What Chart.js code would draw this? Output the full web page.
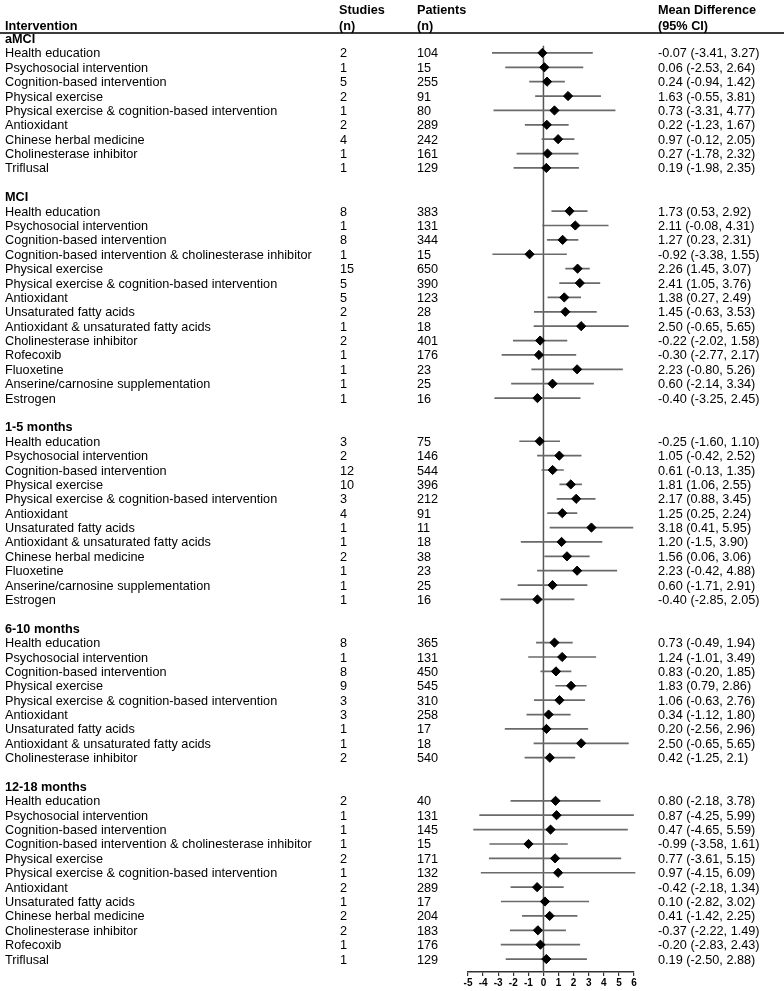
<!DOCTYPE html>
<html>
<head>
<meta charset="utf-8">
<script src="https://cdn.jsdelivr.net/npm/chart.js@4.4.1/dist/chart.umd.min.js"></script>
<style>
  html, body { margin: 0; padding: 0; background: #fff; }
  #wrap { position: relative; width: 784px; height: 991px; overflow: hidden;
          font-family: "Liberation Sans", Arial, sans-serif; font-size: 12.7px; color: #000; }
  #wrap canvas { position: absolute; left: 0; top: 0; }
  .t { position: absolute; white-space: nowrap; line-height: 14px; }
  .b { font-weight: bold; }
  #rule { position: absolute; left: 0; top: 32px; width: 784px; height: 2px; background: #3c3c3c; }
</style>
</head>
<body>
<div id="wrap">
  <canvas id="forest" width="784" height="991"></canvas>
  <div id="rule"></div>
</div>
<script>
const groups = ['aMCI', 'MCI', '1-5 months', '6-10 months', '12-18 months'];
const groupSizes = [9, 14, 12, 9, 12];

const interventions = [
  // aMCI
  'Health education', 'Psychosocial intervention', 'Cognition-based intervention', 'Physical exercise',
  'Physical exercise & cognition-based intervention', 'Antioxidant', 'Chinese herbal medicine',
  'Cholinesterase inhibitor', 'Triflusal',
  // MCI
  'Health education', 'Psychosocial intervention', 'Cognition-based intervention',
  'Cognition-based intervention & cholinesterase inhibitor', 'Physical exercise',
  'Physical exercise & cognition-based intervention', 'Antioxidant', 'Unsaturated fatty acids',
  'Antioxidant & unsaturated fatty acids', 'Cholinesterase inhibitor', 'Rofecoxib', 'Fluoxetine',
  'Anserine/carnosine supplementation', 'Estrogen',
  // 1-5 months
  'Health education', 'Psychosocial intervention', 'Cognition-based intervention', 'Physical exercise',
  'Physical exercise & cognition-based intervention', 'Antioxidant', 'Unsaturated fatty acids',
  'Antioxidant & unsaturated fatty acids', 'Chinese herbal medicine', 'Fluoxetine',
  'Anserine/carnosine supplementation', 'Estrogen',
  // 6-10 months
  'Health education', 'Psychosocial intervention', 'Cognition-based intervention', 'Physical exercise',
  'Physical exercise & cognition-based intervention', 'Antioxidant', 'Unsaturated fatty acids',
  'Antioxidant & unsaturated fatty acids', 'Cholinesterase inhibitor',
  // 12-18 months
  'Health education', 'Psychosocial intervention', 'Cognition-based intervention',
  'Cognition-based intervention & cholinesterase inhibitor', 'Physical exercise',
  'Physical exercise & cognition-based intervention', 'Antioxidant', 'Unsaturated fatty acids',
  'Chinese herbal medicine', 'Cholinesterase inhibitor', 'Rofecoxib', 'Triflusal'
];

const studies = [
  2, 1, 5, 2, 1, 2, 4, 1, 1,
  8, 1, 8, 1, 15, 5, 5, 2, 1, 2, 1, 1, 1, 1,
  3, 2, 12, 10, 3, 4, 1, 1, 2, 1, 1, 1,
  8, 1, 8, 9, 3, 3, 1, 1, 2,
  2, 1, 1, 1, 2, 1, 2, 1, 2, 2, 1, 1
];

const patients = [
  104, 15, 255, 91, 80, 289, 242, 161, 129,
  383, 131, 344, 15, 650, 390, 123, 28, 18, 401, 176, 23, 25, 16,
  75, 146, 544, 396, 212, 91, 11, 18, 38, 23, 25, 16,
  365, 131, 450, 545, 310, 258, 17, 18, 540,
  40, 131, 145, 15, 171, 132, 289, 17, 204, 183, 176, 129
];

const md = [
  -0.07, 0.06, 0.24, 1.63, 0.73, 0.22, 0.97, 0.27, 0.19,
  1.73, 2.11, 1.27, -0.92, 2.26, 2.41, 1.38, 1.45, 2.50, -0.22, -0.30, 2.23, 0.60, -0.40,
  -0.25, 1.05, 0.61, 1.81, 2.17, 1.25, 3.18, 1.20, 1.56, 2.23, 0.60, -0.40,
  0.73, 1.24, 0.83, 1.83, 1.06, 0.34, 0.20, 2.50, 0.42,
  0.80, 0.87, 0.47, -0.99, 0.77, 0.97, -0.42, 0.10, 0.41, -0.37, -0.20, 0.19
];

const lo = [
  -3.41, -2.53, -0.94, -0.55, -3.31, -1.23, -0.12, -1.78, -1.98,
  0.53, -0.08, 0.23, -3.38, 1.45, 1.05, 0.27, -0.63, -0.65, -2.02, -2.77, -0.80, -2.14, -3.25,
  -1.60, -0.42, -0.13, 1.06, 0.88, 0.25, 0.41, -1.5, 0.06, -0.42, -1.71, -2.85,
  -0.49, -1.01, -0.20, 0.79, -0.63, -1.12, -2.56, -0.65, -1.25,
  -2.18, -4.25, -4.65, -3.58, -3.61, -4.15, -2.18, -2.82, -1.42, -2.22, -2.83, -2.50
];

const hi = [
  3.27, 2.64, 1.42, 3.81, 4.77, 1.67, 2.05, 2.32, 2.35,
  2.92, 4.31, 2.31, 1.55, 3.07, 3.76, 2.49, 3.53, 5.65, 1.58, 2.17, 5.26, 3.34, 2.45,
  1.10, 2.52, 1.35, 2.55, 3.45, 2.24, 5.95, 3.90, 3.06, 4.88, 2.91, 2.05,
  1.94, 3.49, 1.85, 2.86, 2.76, 1.80, 2.96, 5.65, 2.1,
  3.78, 5.99, 5.59, 1.61, 5.15, 6.09, 1.34, 3.02, 2.25, 1.49, 2.43, 2.88
];

// printed as in the source table (some bounds have one decimal)
const ciLabels = [
  '-0.07 (-3.41, 3.27)', '0.06 (-2.53, 2.64)', '0.24 (-0.94, 1.42)', '1.63 (-0.55, 3.81)',
  '0.73 (-3.31, 4.77)', '0.22 (-1.23, 1.67)', '0.97 (-0.12, 2.05)', '0.27 (-1.78, 2.32)',
  '0.19 (-1.98, 2.35)',
  '1.73 (0.53, 2.92)', '2.11 (-0.08, 4.31)', '1.27 (0.23, 2.31)', '-0.92 (-3.38, 1.55)',
  '2.26 (1.45, 3.07)', '2.41 (1.05, 3.76)', '1.38 (0.27, 2.49)', '1.45 (-0.63, 3.53)',
  '2.50 (-0.65, 5.65)', '-0.22 (-2.02, 1.58)', '-0.30 (-2.77, 2.17)', '2.23 (-0.80, 5.26)',
  '0.60 (-2.14, 3.34)', '-0.40 (-3.25, 2.45)',
  '-0.25 (-1.60, 1.10)', '1.05 (-0.42, 2.52)', '0.61 (-0.13, 1.35)', '1.81 (1.06, 2.55)',
  '2.17 (0.88, 3.45)', '1.25 (0.25, 2.24)', '3.18 (0.41, 5.95)', '1.20 (-1.5, 3.90)',
  '1.56 (0.06, 3.06)', '2.23 (-0.42, 4.88)', '0.60 (-1.71, 2.91)', '-0.40 (-2.85, 2.05)',
  '0.73 (-0.49, 1.94)', '1.24 (-1.01, 3.49)', '0.83 (-0.20, 1.85)', '1.83 (0.79, 2.86)',
  '1.06 (-0.63, 2.76)', '0.34 (-1.12, 1.80)', '0.20 (-2.56, 2.96)', '2.50 (-0.65, 5.65)',
  '0.42 (-1.25, 2.1)',
  '0.80 (-2.18, 3.78)', '0.87 (-4.25, 5.99)', '0.47 (-4.65, 5.59)', '-0.99 (-3.58, 1.61)',
  '0.77 (-3.61, 5.15)', '0.97 (-4.15, 6.09)', '-0.42 (-2.18, 1.34)', '0.10 (-2.82, 3.02)',
  '0.41 (-1.42, 2.25)', '-0.37 (-2.22, 1.49)', '-0.20 (-2.83, 2.43)', '0.19 (-2.50, 2.88)'
];

const xMin = -5;
const xMax = 6;

// row numbers: a header row per group, one row per intervention, a blank row after each group
const headerRows = [];
const itemRows = [];
let r = 0;
groupSizes.forEach(n => {
  headerRows.push(r++);
  for (let i = 0; i < n; i++) itemRows.push(r++);
  r++;
});
const lastRow = itemRows[itemRows.length - 1];

const ciData = [];
itemRows.forEach((row, i) => {
  ciData.push({ x: lo[i], y: row }, { x: hi[i], y: row }, { x: null, y: null });
});

const chart = new Chart(document.getElementById('forest').getContext('2d'), {
  data: {
    datasets: [
      {
        type: 'scatter',
        data: itemRows.map((row, i) => ({ x: md[i], y: row })),
        pointStyle: 'rectRot',
        pointRadius: 4.6,
        backgroundColor: '#000',
        borderColor: '#000',
        borderWidth: 1,
        clip: false,
        order: 0
      },
      {
        type: 'line',
        data: ciData,
        borderColor: '#6a6a6a',
        borderWidth: 1.7,
        pointRadius: 0,
        spanGaps: false,
        clip: false,
        order: 1
      },
      {
        type: 'line',
        data: [{ x: 0, y: 0.5 }, { x: 0, y: lastRow + 0.9 }],
        borderColor: '#555',
        borderWidth: 1.5,
        pointRadius: 0,
        clip: false,
        order: 2
      }
    ]
  },
  options: {
    responsive: false,
    animation: false,
    events: [],
    layout: { padding: { top: 45.7, left: 468, right: 150, bottom: 0 } },
    plugins: { legend: { display: false }, tooltip: { enabled: false } },
    scales: {
      x: {
        type: 'linear',
        position: 'bottom',
        min: xMin,
        max: xMax,
        afterFit(scale) { scale.height = 19; },
        ticks: {
          stepSize: 1,
          color: '#000',
          padding: 1,
          font: { family: '"Liberation Sans", Arial, sans-serif', size: 10, weight: 'bold' }
        },
        grid: { drawOnChartArea: false, drawTicks: true, tickLength: 4, color: '#333', lineWidth: 1.2 },
        border: { display: true, color: '#333', width: 1.5 }
      },
      y: {
        type: 'linear',
        reverse: true,
        min: 0.5,
        max: lastRow + 0.9,
        display: false
      }
    }
  }
});

// table text, placed on the rows of the chart's own y scale
const wrap = document.getElementById('wrap');
function put(text, x, y, bold) {
  const el = document.createElement('div');
  el.className = bold ? 't b' : 't';
  el.textContent = text;
  el.style.left = x + 'px';
  el.style.top = (y - 6.5) + 'px';
  wrap.appendChild(el);
}

const colName = 5, colStudies = 340, colPatients = 417, colCi = 658;
put('Intervention', colName, 25, true);
put('Studies', colStudies - 1, 9, true);
put('(n)', colStudies - 1, 25, true);
put('Patients', colPatients, 9, true);
put('(n)', colPatients, 25, true);
put('Mean Difference', colCi, 9, true);
put('(95% CI)', colCi, 25, true);

const yScale = chart.scales.y;
headerRows.forEach((row, g) => put(groups[g], colName, yScale.getPixelForValue(row), true));
itemRows.forEach((row, i) => {
  const y = yScale.getPixelForValue(row);
  put(interventions[i], colName, y);
  put(String(studies[i]), colStudies, y);
  put(String(patients[i]), colPatients, y);
  put(ciLabels[i], colCi, y);
});
</script>
</body>
</html>
